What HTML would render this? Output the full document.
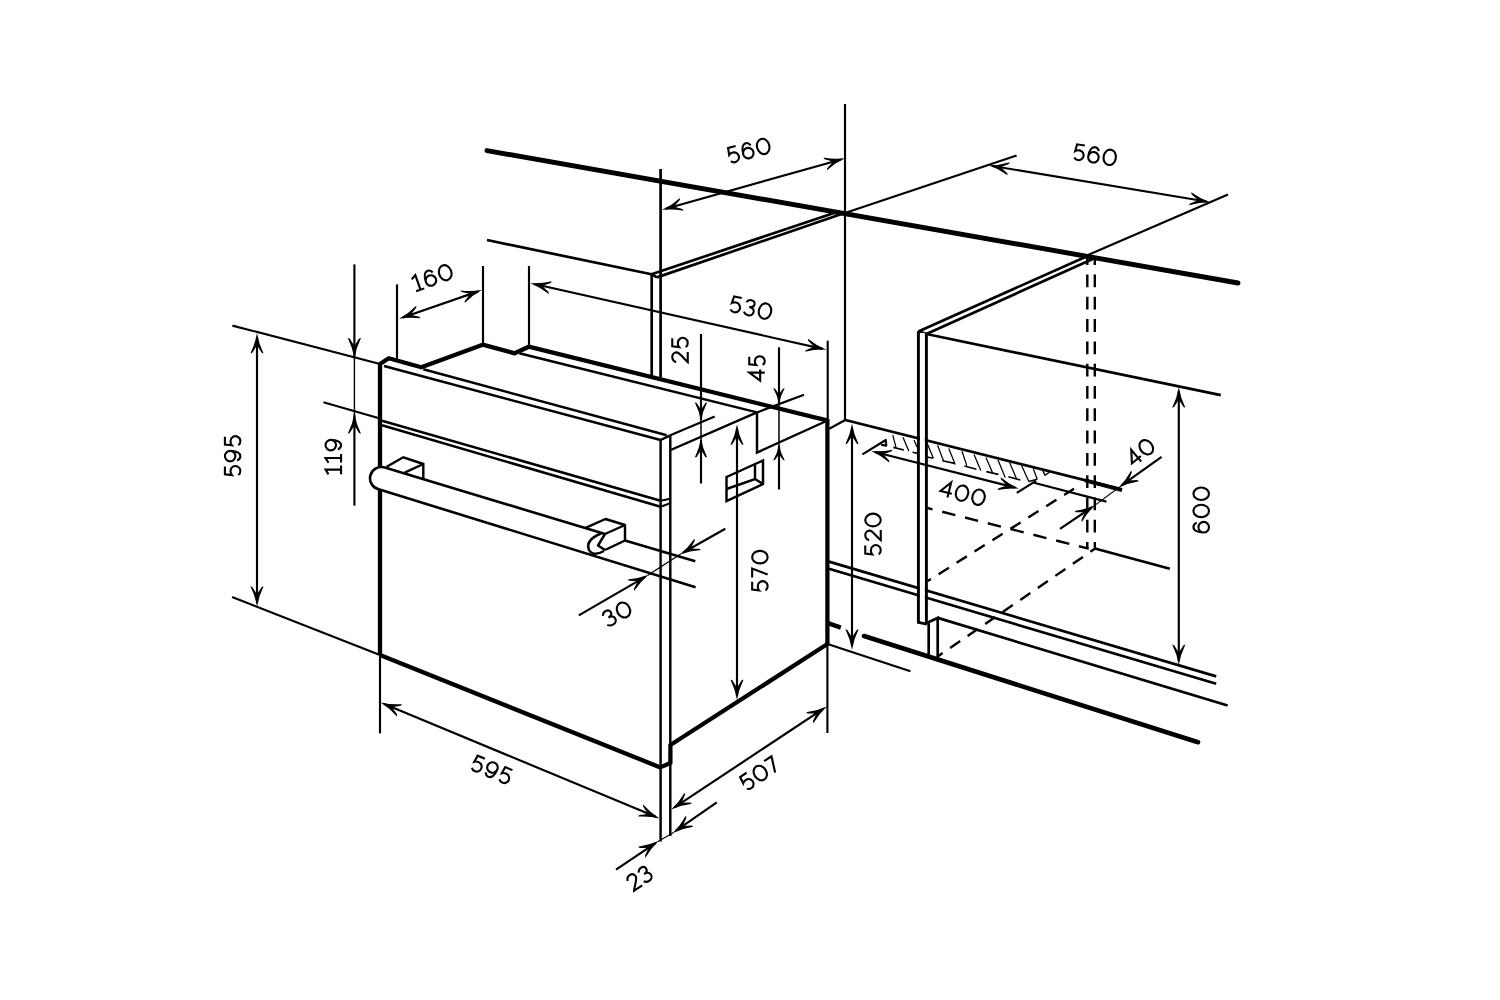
<!DOCTYPE html>
<html><head><meta charset="utf-8"><style>
html,body{margin:0;padding:0;background:#fff;}
svg{display:block;}
text{font-family:"Liberation Sans",sans-serif;text-anchor:middle;dominant-baseline:central;fill:#000;stroke:#fff;stroke-width:0.45px;}
</style></head><body>
<svg width="1500" height="1000" viewBox="0 0 1500 1000">

<rect width="1500" height="1000" fill="#fff"/>
<g stroke="#000" fill="none" stroke-linecap="butt">
<line x1="487" y1="150.6" x2="1238" y2="283" stroke-width="4.9" stroke-linecap="round"/>
<line x1="845" y1="104" x2="845" y2="420" stroke-width="2.15" />
<line x1="845" y1="213" x2="1016.6" y2="155.6" stroke-width="2.15" />
<line x1="487" y1="240" x2="651.5" y2="274.3" stroke-width="2.7" />
<line x1="651.5" y1="274.3" x2="657" y2="277.4" stroke-width="2.7" />
<line x1="660.6" y1="169" x2="660.6" y2="377.5" stroke-width="2.7" />
<line x1="651.7" y1="274.3" x2="651.7" y2="375.5" stroke-width="2.7" />
<line x1="651.5" y1="274.3" x2="840" y2="211" stroke-width="2.7" />
<line x1="657" y1="277.4" x2="843" y2="213.5" stroke-width="2.7" />
<line x1="665.89" y1="208.79" x2="841.11" y2="159.41" stroke-width="2.15" />
<path d="M1,0 Q-9.75,-1.78 -19.50,-6.60 L-18.80,-4.70 Q-14.62,-1.98 -11.31,0 Q-14.62,1.98 -18.80,4.70 L-19.50,6.60 Q-9.75,1.78 1,0Z" fill="#000" stroke="none" transform="translate(844,158.6) rotate(-15.74)"/>
<path d="M1,0 Q-9.75,-1.78 -19.50,-6.60 L-18.80,-4.70 Q-14.62,-1.98 -11.31,0 Q-14.62,1.98 -18.80,4.70 L-19.50,6.60 Q-9.75,1.78 1,0Z" fill="#000" stroke="none" transform="translate(663,209.6) rotate(164.26)"/>
<g transform="translate(748.8,150.4) rotate(-15.4) scale(1.0,1.0) translate(-22.10,-7.75)" stroke-width="2.1" stroke-linejoin="miter" fill="none"><path transform="translate(1.05,0)" d="M9.5,0 L1.7,0 L0.9,6.9 Q2.4,5.6 5.0,5.6 A4.95,4.95 0 1 1 0.95,13.4"/><path transform="translate(15.65,0)" d="M0,10.25 A5.25,5.25 0 1 0 10.5,10.25 A5.25,5.25 0 1 0 0,10.25Z M9.6,3.3 C8.8,1.2 7.3,0 5.5,0 C2.3,0 0,3.8 0,10.25"/><path transform="translate(30.85,0)" d="M6.15,0 A6.15,7.75 0 1 1 6.15,15.5 A6.15,7.75 0 1 1 6.15,0Z"/></g>
<line x1="992.46" y1="165.99" x2="1206.34" y2="201.51" stroke-width="2.15" />
<path d="M1,0 Q-9.75,-1.78 -19.50,-6.60 L-18.80,-4.70 Q-14.62,-1.98 -11.31,0 Q-14.62,1.98 -18.80,4.70 L-19.50,6.60 Q-9.75,1.78 1,0Z" fill="#000" stroke="none" transform="translate(1209.3,202) rotate(9.43)"/>
<path d="M1,0 Q-9.75,-1.78 -19.50,-6.60 L-18.80,-4.70 Q-14.62,-1.98 -11.31,0 Q-14.62,1.98 -18.80,4.70 L-19.50,6.60 Q-9.75,1.78 1,0Z" fill="#000" stroke="none" transform="translate(989.5,165.5) rotate(189.43)"/>
<g transform="translate(1095,155) rotate(9) scale(1.0,1.0) translate(-22.10,-7.75)" stroke-width="2.1" stroke-linejoin="miter" fill="none"><path transform="translate(1.05,0)" d="M9.5,0 L1.7,0 L0.9,6.9 Q2.4,5.6 5.0,5.6 A4.95,4.95 0 1 1 0.95,13.4"/><path transform="translate(15.65,0)" d="M0,10.25 A5.25,5.25 0 1 0 10.5,10.25 A5.25,5.25 0 1 0 0,10.25Z M9.6,3.3 C8.8,1.2 7.3,0 5.5,0 C2.3,0 0,3.8 0,10.25"/><path transform="translate(30.85,0)" d="M6.15,0 A6.15,7.75 0 1 1 6.15,15.5 A6.15,7.75 0 1 1 6.15,0Z"/></g>
<line x1="1088" y1="255" x2="1228" y2="194.4" stroke-width="2.15" />
<line x1="918.4" y1="331.4" x2="1088.2" y2="255.7" stroke-width="2.7" />
<line x1="926.4" y1="334" x2="1092.7" y2="259" stroke-width="2.7" />
<line x1="918.4" y1="331.4" x2="926.4" y2="334" stroke-width="2.7" />
<line x1="926.4" y1="334" x2="1220.8" y2="395.1" stroke-width="2.7" />
<line x1="1087.3" y1="256" x2="1087.3" y2="548.5" stroke-width="2.4" stroke-dasharray="12.8 9.5" stroke-dashoffset="3.8"/>
<line x1="1094.8" y1="256" x2="1094.8" y2="547.5" stroke-width="2.4" stroke-dasharray="12.8 9.5" stroke-dashoffset="3.8"/>
<line x1="1178.8" y1="391.3" x2="1178.8" y2="661.0" stroke-width="2.15" />
<path d="M1,0 Q-9.75,-1.78 -19.50,-6.60 L-18.80,-4.70 Q-14.62,-1.98 -11.31,0 Q-14.62,1.98 -18.80,4.70 L-19.50,6.60 Q-9.75,1.78 1,0Z" fill="#000" stroke="none" transform="translate(1178.8,664) rotate(90.00)"/>
<path d="M1,0 Q-9.75,-1.78 -19.50,-6.60 L-18.80,-4.70 Q-14.62,-1.98 -11.31,0 Q-14.62,1.98 -18.80,4.70 L-19.50,6.60 Q-9.75,1.78 1,0Z" fill="#000" stroke="none" transform="translate(1178.8,388.3) rotate(270.00)"/>
<g transform="translate(1201.2,510) rotate(-90) scale(1.01,1.0) translate(-23.30,-7.75)" stroke-width="2.1" stroke-linejoin="miter" fill="none"><path transform="translate(1.05,0)" d="M0,10.25 A5.25,5.25 0 1 0 10.5,10.25 A5.25,5.25 0 1 0 0,10.25Z M9.6,3.3 C8.8,1.2 7.3,0 5.5,0 C2.3,0 0,3.8 0,10.25"/><path transform="translate(16.25,0)" d="M6.15,0 A6.15,7.75 0 1 1 6.15,15.5 A6.15,7.75 0 1 1 6.15,0Z"/><path transform="translate(33.25,0)" d="M6.15,0 A6.15,7.75 0 1 1 6.15,15.5 A6.15,7.75 0 1 1 6.15,0Z"/></g>
<line x1="1094" y1="548.3" x2="1169.8" y2="568.7" stroke-width="2.7" />
<line x1="829" y1="561.6" x2="1216.2" y2="676.4" stroke-width="2.7" />
<line x1="829" y1="568.8" x2="1216.2" y2="683.7" stroke-width="2.7" />
<line x1="937.7" y1="617.9" x2="1227.6" y2="705.5" stroke-width="2.7" />
<line x1="864" y1="636" x2="1198" y2="742.2" stroke-width="4.6" stroke-linecap="round"/>
<line x1="828" y1="623.2" x2="840.8" y2="627.7" stroke-width="4.4" />
<line x1="827.5" y1="644" x2="910.4" y2="671.2" stroke-width="2.15" />
<line x1="927.3" y1="508" x2="1088.7" y2="548.7" stroke-width="2.4" stroke-dasharray="13.5 10" stroke-dashoffset="8.1"/>
<line x1="927.3" y1="581.3" x2="1074" y2="488.7" stroke-width="2.4" stroke-dasharray="12.1 9.1" stroke-dashoffset="7.8"/>
<line x1="937.7" y1="656.5" x2="1096.3" y2="547.8" stroke-width="2.4" stroke-dasharray="12.2 9.06" stroke-dashoffset="6.21"/>
<line x1="845.3" y1="420" x2="1121.6" y2="489.4" stroke-width="2.7" />
<line x1="1085" y1="480.4" x2="1122" y2="490.2" stroke-width="3.8" />
<path d="M892.8,435.1 L896,447.4 M903,437.3 L908.8,451.1 M914,440 L917,447 M927,443.1 L933.3,458.1 M937.6,445.3 L943.5,460.7 M948.8,448.5 L955.2,464.5 M962,451.2 L966.8,465.6 M974,454.4 L980.8,470.4 M986,457.6 L992.4,472.4 M998,460 L1005.2,477.6 M1009.6,462.4 L1016.4,478.4 M1021.6,465.6 L1028.8,481.6 M1033.2,468.4 L1037.2,479.2 " stroke-width="1.25" />
<path d="M893.3,447.4 L904,450 M912.5,452.2 L917.3,453.3 M927,457 L933.3,458.3 M942.4,460.7 L954.7,463.4 M964.4,466 L976.4,469.2 M986.4,471.6 L998.4,474.4 M1008.4,476.8 L1020.4,480 M1028.8,481.6 L1037.2,479.2 " stroke-width="1.6" />
<path d="M1042.8,470.4 L1045,475.2 L1049.2,472.5" stroke-width="1.4" />
<rect x="920" y="333" width="4.8" height="289" fill="#fff" stroke="none"/>
<path d="M918.4,331.2 L918.4,622.4 L926.9,624.2" stroke-width="2.9" />
<path d="M926.4,334 L926.4,624.2" stroke-width="2.9" />
<path d="M928.7,656 L928.7,622 L937.7,617.9 L937.7,657.6" stroke-width="2.7" />
<line x1="874.91" y1="452.04" x2="1015.09" y2="487.66" stroke-width="2.15" />
<path d="M1,0 Q-9.75,-1.78 -19.50,-6.60 L-18.80,-4.70 Q-14.62,-1.98 -11.31,0 Q-14.62,1.98 -18.80,4.70 L-19.50,6.60 Q-9.75,1.78 1,0Z" fill="#000" stroke="none" transform="translate(1018,488.4) rotate(14.26)"/>
<path d="M1,0 Q-9.75,-1.78 -19.50,-6.60 L-18.80,-4.70 Q-14.62,-1.98 -11.31,0 Q-14.62,1.98 -18.80,4.70 L-19.50,6.60 Q-9.75,1.78 1,0Z" fill="#000" stroke="none" transform="translate(872,451.3) rotate(194.26)"/>
<g transform="translate(962.7,493.3) rotate(14) scale(1.0,1.0) translate(-23.50,-7.75)" stroke-width="2.1" stroke-linejoin="miter" fill="none"><path transform="translate(1.40,0)" d="M8.3,15.5 L8.3,0 L0,10.9 L11.6,10.9"/><path transform="translate(16.65,0)" d="M6.15,0 A6.15,7.75 0 1 1 6.15,15.5 A6.15,7.75 0 1 1 6.15,0Z"/><path transform="translate(33.65,0)" d="M6.15,0 A6.15,7.75 0 1 1 6.15,15.5 A6.15,7.75 0 1 1 6.15,0Z"/></g>
<path d="M862.4,454.4 L885.8,440 L886.3,445.6 L881.2,444.9" stroke-width="2.15" stroke-linejoin="round"/>
<line x1="1016.8" y1="492.8" x2="1036" y2="480.8" stroke-width="2.15" />
<line x1="1034" y1="482.7" x2="1106.4" y2="501.6" stroke-width="2.15" />
<line x1="1161.6" y1="456.8" x2="1121.64" y2="485.45" stroke-width="2.15" />
<path d="M1,0 Q-9.75,-1.78 -19.50,-6.60 L-18.80,-4.70 Q-14.62,-1.98 -11.31,0 Q-14.62,1.98 -18.80,4.70 L-19.50,6.60 Q-9.75,1.78 1,0Z" fill="#000" stroke="none" transform="translate(1119.2,487.2) rotate(144.36)"/>
<line x1="1060" y1="528.8" x2="1091.91" y2="507.28" stroke-width="2.15" />
<path d="M1,0 Q-9.75,-1.78 -19.50,-6.60 L-18.80,-4.70 Q-14.62,-1.98 -11.31,0 Q-14.62,1.98 -18.80,4.70 L-19.50,6.60 Q-9.75,1.78 1,0Z" fill="#000" stroke="none" transform="translate(1094.4,505.6) rotate(-34.00)"/>
<line x1="1094.4" y1="505.6" x2="1119.2" y2="487.2" stroke-width="1.1" />
<g transform="translate(1140.3,452.3) rotate(-40) scale(1.0,1.0) translate(-15.00,-7.75)" stroke-width="2.1" stroke-linejoin="miter" fill="none"><path transform="translate(1.40,0)" d="M8.3,15.5 L8.3,0 L0,10.9 L11.6,10.9"/><path transform="translate(16.65,0)" d="M6.15,0 A6.15,7.75 0 1 1 6.15,15.5 A6.15,7.75 0 1 1 6.15,0Z"/></g>
<path d="M380,655 L380,364 L388.7,358.3 L421.3,367.3 L482.7,344.7 L514.7,353.3 L528.7,346.7 L828,420.7" stroke-width="4.3" stroke-linejoin="round"/>
<line x1="827.4" y1="419" x2="827.4" y2="644" stroke-width="4.3" />
<line x1="827.4" y1="644" x2="827.4" y2="733" stroke-width="2.15" />
<line x1="380" y1="655" x2="380" y2="733.4" stroke-width="2.15" />
<path d="M380,655 L660.3,767.4 L670.4,763 L670.4,745 L827.4,644" stroke-width="4.3" stroke-linejoin="round"/>
<line x1="384" y1="366" x2="660.6" y2="440" stroke-width="2.45" />
<line x1="423.3" y1="369.3" x2="666.7" y2="435.3" stroke-width="2.45" />
<line x1="660.6" y1="440" x2="670.3" y2="435.3" stroke-width="2.45" />
<line x1="660.6" y1="440" x2="660.6" y2="841.4" stroke-width="2.45" />
<line x1="670.3" y1="435.3" x2="670.3" y2="836" stroke-width="2.45" />
<line x1="670.7" y1="450" x2="757" y2="412.4" stroke-width="2.45" />
<line x1="519.3" y1="353.3" x2="757" y2="412.4" stroke-width="2.45" />
<path d="M757,412.4 L757,452.5 L825.3,421.5" stroke-width="2.45" />
<line x1="757" y1="412.4" x2="804" y2="394.7" stroke-width="2.15" />
<line x1="670.3" y1="435.3" x2="714.7" y2="416.4" stroke-width="2.15" />
<line x1="829.3" y1="428.7" x2="845.3" y2="420" stroke-width="2.15" />
<line x1="701" y1="334" x2="701" y2="420.3" stroke-width="2.15" />
<line x1="701" y1="420.3" x2="701" y2="439.6" stroke-width="1.5" />
<line x1="701" y1="439.6" x2="701" y2="483.5" stroke-width="2.15" />
<path d="M1,0 Q-9.00,-1.67 -18.00,-6.20 L-17.30,-4.30 Q-13.50,-1.86 -10.44,0 Q-13.50,1.86 -17.30,4.30 L-18.00,6.20 Q-9.00,1.67 1,0Z" fill="#000" stroke="none" transform="translate(701,420.3) rotate(90.00)"/>
<path d="M1,0 Q-9.00,-1.67 -18.00,-6.20 L-17.30,-4.30 Q-13.50,-1.86 -10.44,0 Q-13.50,1.86 -17.30,4.30 L-18.00,6.20 Q-9.00,1.67 1,0Z" fill="#000" stroke="none" transform="translate(701,439.6) rotate(-90.00)"/>
<g transform="translate(680,350) rotate(-90) scale(1.04,1.0) translate(-12.75,-7.75)" stroke-width="2.1" stroke-linejoin="miter" fill="none"><path transform="translate(0.60,0)" d="M0.5,3.9 C1.3,1.5 3.2,0 5.4,0 C8.0,0 9.8,1.8 9.8,4.3 C9.8,7.6 4.0,11.0 0.6,15.5 L10.3,15.5"/><path transform="translate(14.55,0)" d="M9.5,0 L1.7,0 L0.9,6.9 Q2.4,5.6 5.0,5.6 A4.95,4.95 0 1 1 0.95,13.4"/></g>
<line x1="779" y1="347.3" x2="779" y2="403" stroke-width="2.15" />
<line x1="779" y1="403" x2="779" y2="445.5" stroke-width="1.5" />
<line x1="779" y1="445.5" x2="779" y2="489.5" stroke-width="2.15" />
<path d="M1,0 Q-7.50,-1.57 -15.00,-5.80 L-14.30,-3.90 Q-11.25,-1.74 -8.70,0 Q-11.25,1.74 -14.30,3.90 L-15.00,5.80 Q-7.50,1.57 1,0Z" fill="#000" stroke="none" transform="translate(779,403) rotate(90.00)"/>
<path d="M1,0 Q-7.50,-1.57 -15.00,-5.80 L-14.30,-3.90 Q-11.25,-1.74 -8.70,0 Q-11.25,1.74 -14.30,3.90 L-15.00,5.80 Q-7.50,1.57 1,0Z" fill="#000" stroke="none" transform="translate(779,445.5) rotate(-90.00)"/>
<g transform="translate(757,368.65) rotate(-90) scale(0.97,1.0) translate(-13.80,-7.75)" stroke-width="2.1" stroke-linejoin="miter" fill="none"><path transform="translate(1.40,0)" d="M8.3,15.5 L8.3,0 L0,10.9 L11.6,10.9"/><path transform="translate(16.65,0)" d="M9.5,0 L1.7,0 L0.9,6.9 Q2.4,5.6 5.0,5.6 A4.95,4.95 0 1 1 0.95,13.4"/></g>
<line x1="529" y1="266" x2="529" y2="347" stroke-width="2.15" />
<line x1="827.7" y1="340.7" x2="827.7" y2="421" stroke-width="2.15" />
<line x1="534.23" y1="284.06" x2="822.57" y2="348.84" stroke-width="2.15" />
<path d="M1,0 Q-9.75,-1.78 -19.50,-6.60 L-18.80,-4.70 Q-14.62,-1.98 -11.31,0 Q-14.62,1.98 -18.80,4.70 L-19.50,6.60 Q-9.75,1.78 1,0Z" fill="#000" stroke="none" transform="translate(825.5,349.5) rotate(12.66)"/>
<path d="M1,0 Q-9.75,-1.78 -19.50,-6.60 L-18.80,-4.70 Q-14.62,-1.98 -11.31,0 Q-14.62,1.98 -18.80,4.70 L-19.50,6.60 Q-9.75,1.78 1,0Z" fill="#000" stroke="none" transform="translate(531.3,283.4) rotate(192.66)"/>
<g transform="translate(750.9,308) rotate(12.4) scale(1.0,1.0) translate(-21.63,-7.75)" stroke-width="2.1" stroke-linejoin="miter" fill="none"><path transform="translate(1.05,0)" d="M9.5,0 L1.7,0 L0.9,6.9 Q2.4,5.6 5.0,5.6 A4.95,4.95 0 1 1 0.95,13.4"/><path transform="translate(15.20,0)" d="M0.8,2.9 C1.8,1.0 3.4,0 5.2,0 C7.6,0 9.2,1.5 9.2,3.6 C9.2,5.6 7.6,7.0 4.6,7.0 C8.2,7.0 10.0,8.7 10.0,11.1 C10.0,13.7 7.9,15.5 5.2,15.5 C3.1,15.5 1.4,14.5 0.3,12.9"/><path transform="translate(29.90,0)" d="M6.15,0 A6.15,7.75 0 1 1 6.15,15.5 A6.15,7.75 0 1 1 6.15,0Z"/></g>
<line x1="397" y1="284.4" x2="397" y2="359" stroke-width="2.15" />
<line x1="483" y1="266" x2="483" y2="345" stroke-width="2.15" />
<line x1="402.84" y1="317.42" x2="478.16" y2="291.38" stroke-width="2.15" />
<path d="M1,0 Q-9.75,-1.78 -19.50,-6.60 L-18.80,-4.70 Q-14.62,-1.98 -11.31,0 Q-14.62,1.98 -18.80,4.70 L-19.50,6.60 Q-9.75,1.78 1,0Z" fill="#000" stroke="none" transform="translate(481,290.4) rotate(-19.07)"/>
<path d="M1,0 Q-9.75,-1.78 -19.50,-6.60 L-18.80,-4.70 Q-14.62,-1.98 -11.31,0 Q-14.62,1.98 -18.80,4.70 L-19.50,6.60 Q-9.75,1.78 1,0Z" fill="#000" stroke="none" transform="translate(400,318.4) rotate(160.93)"/>
<g transform="translate(432.6,277.2) rotate(-19.5) scale(1.0,1.0) translate(-20.60,-7.75)" stroke-width="2.1" stroke-linejoin="miter" fill="none"><path transform="translate(0.20,0)" d="M0,2.9 L4.8,0 L4.8,15.5 M0.2,15.5 L8.8,15.5"/><path transform="translate(12.65,0)" d="M0,10.25 A5.25,5.25 0 1 0 10.5,10.25 A5.25,5.25 0 1 0 0,10.25Z M9.6,3.3 C8.8,1.2 7.3,0 5.5,0 C2.3,0 0,3.8 0,10.25"/><path transform="translate(27.85,0)" d="M6.15,0 A6.15,7.75 0 1 1 6.15,15.5 A6.15,7.75 0 1 1 6.15,0Z"/></g>
<line x1="354.4" y1="264.4" x2="354.4" y2="357.4" stroke-width="2.15" />
<line x1="354.4" y1="357.4" x2="354.4" y2="414.3" stroke-width="1.4" />
<line x1="354.4" y1="414.3" x2="354.4" y2="505.6" stroke-width="2.15" />
<path d="M1,0 Q-9.75,-1.78 -19.50,-6.60 L-18.80,-4.70 Q-14.62,-1.98 -11.31,0 Q-14.62,1.98 -18.80,4.70 L-19.50,6.60 Q-9.75,1.78 1,0Z" fill="#000" stroke="none" transform="translate(354.4,357.4) rotate(90.00)"/>
<path d="M1,0 Q-9.75,-1.78 -19.50,-6.60 L-18.80,-4.70 Q-14.62,-1.98 -11.31,0 Q-14.62,1.98 -18.80,4.70 L-19.50,6.60 Q-9.75,1.78 1,0Z" fill="#000" stroke="none" transform="translate(354.4,414.3) rotate(-90.00)"/>
<g transform="translate(333.3,456.7) rotate(-90) scale(1.0,1.0) translate(-17.90,-7.75)" stroke-width="2.1" stroke-linejoin="miter" fill="none"><path transform="translate(0.20,0)" d="M0,2.9 L4.8,0 L4.8,15.5 M0.2,15.5 L8.8,15.5"/><path transform="translate(11.80,0)" d="M0,2.9 L4.8,0 L4.8,15.5 M0.2,15.5 L8.8,15.5"/><path transform="translate(24.25,0)" d="M10.5,5.25 A5.25,5.25 0 1 0 0,5.25 A5.25,5.25 0 1 0 10.5,5.25Z M0.9,12.2 C1.7,14.3 3.2,15.5 5.0,15.5 C8.2,15.5 10.5,11.7 10.5,5.25"/></g>
<line x1="257.0" y1="337.0" x2="257.0" y2="602.8" stroke-width="2.15" />
<path d="M1,0 Q-9.75,-1.78 -19.50,-6.60 L-18.80,-4.70 Q-14.62,-1.98 -11.31,0 Q-14.62,1.98 -18.80,4.70 L-19.50,6.60 Q-9.75,1.78 1,0Z" fill="#000" stroke="none" transform="translate(257,605.8) rotate(90.00)"/>
<path d="M1,0 Q-9.75,-1.78 -19.50,-6.60 L-18.80,-4.70 Q-14.62,-1.98 -11.31,0 Q-14.62,1.98 -18.80,4.70 L-19.50,6.60 Q-9.75,1.78 1,0Z" fill="#000" stroke="none" transform="translate(257,334) rotate(270.00)"/>
<g transform="translate(232.65,456.1) rotate(-90) scale(1.0,1.0) translate(-20.90,-7.75)" stroke-width="2.1" stroke-linejoin="miter" fill="none"><path transform="translate(1.05,0)" d="M9.5,0 L1.7,0 L0.9,6.9 Q2.4,5.6 5.0,5.6 A4.95,4.95 0 1 1 0.95,13.4"/><path transform="translate(15.65,0)" d="M10.5,5.25 A5.25,5.25 0 1 0 0,5.25 A5.25,5.25 0 1 0 10.5,5.25Z M0.9,12.2 C1.7,14.3 3.2,15.5 5.0,15.5 C8.2,15.5 10.5,11.7 10.5,5.25"/><path transform="translate(30.85,0)" d="M9.5,0 L1.7,0 L0.9,6.9 Q2.4,5.6 5.0,5.6 A4.95,4.95 0 1 1 0.95,13.4"/></g>
<line x1="232.4" y1="325.6" x2="380" y2="364" stroke-width="2.15" />
<line x1="232.1" y1="597" x2="380" y2="655" stroke-width="2.15" />
<line x1="323.4" y1="402.2" x2="380" y2="418.5" stroke-width="2.15" />
<line x1="382" y1="420.7" x2="660.6" y2="500.7" stroke-width="2.45" />
<line x1="382" y1="425.3" x2="660.6" y2="506.7" stroke-width="2.45" />
<line x1="660.6" y1="500.7" x2="670.3" y2="498.7" stroke-width="2.15" />
<line x1="660.6" y1="506.7" x2="670.3" y2="503.3" stroke-width="2.15" />
<path d="M605,534 L384,467.3 A11.3,11.3 0 0 0 378.7,489.3 L606,559.5 Z" fill="#fff" stroke="none"/>
<path d="M605,534 L384,467.3 A11.3,11.3 0 0 0 378.7,489.3 L695.6,587.2" stroke-width="2.6" />
<path d="M386.7,466.7 L403.3,457.3 L423.3,464 L423.3,478.5 M404.7,472.7 L423.3,464" stroke-width="2.45" />
<path d="M585.5,527.8 L605.5,519 L625,525 L625,540.5 L605,550 M625,525 L605,534 M605,534 L598,545.5 L605,550 M601,533.5 Q585,540 589,550 Q593,557 604,551" stroke-width="2.45" stroke-linejoin="round"/>
<line x1="625" y1="540.5" x2="695.3" y2="561.3" stroke-width="2.6" />
<line x1="578.8" y1="615.4" x2="645.21" y2="576.81" stroke-width="2.15" />
<path d="M1,0 Q-9.75,-1.78 -19.50,-6.60 L-18.80,-4.70 Q-14.62,-1.98 -11.31,0 Q-14.62,1.98 -18.80,4.70 L-19.50,6.60 Q-9.75,1.78 1,0Z" fill="#000" stroke="none" transform="translate(647.8,575.3) rotate(-30.16)"/>
<line x1="725.3" y1="528.7" x2="683.31" y2="552.52" stroke-width="2.15" />
<path d="M1,0 Q-9.75,-1.78 -19.50,-6.60 L-18.80,-4.70 Q-14.62,-1.98 -11.31,0 Q-14.62,1.98 -18.80,4.70 L-19.50,6.60 Q-9.75,1.78 1,0Z" fill="#000" stroke="none" transform="translate(680.7,554) rotate(150.44)"/>
<line x1="647.8" y1="575.3" x2="680.7" y2="554" stroke-width="1.3" />
<g transform="translate(617,613.6) rotate(-29) scale(1.04,1.0) translate(-14.33,-7.75)" stroke-width="2.1" stroke-linejoin="miter" fill="none"><path transform="translate(0.60,0)" d="M0.8,2.9 C1.8,1.0 3.4,0 5.2,0 C7.6,0 9.2,1.5 9.2,3.6 C9.2,5.6 7.6,7.0 4.6,7.0 C8.2,7.0 10.0,8.7 10.0,11.1 C10.0,13.7 7.9,15.5 5.2,15.5 C3.1,15.5 1.4,14.5 0.3,12.9"/><path transform="translate(15.30,0)" d="M6.15,0 A6.15,7.75 0 1 1 6.15,15.5 A6.15,7.75 0 1 1 6.15,0Z"/></g>
<path d="M726.5,477 L763,460.5 L763,484 L726.5,501 Z M726.5,489 L755,479 L763,484 M755,479 L755,464.5" stroke-width="2.45" />
<line x1="737.0" y1="428.5" x2="737.0" y2="696.0" stroke-width="2.15" />
<path d="M1,0 Q-9.75,-1.78 -19.50,-6.60 L-18.80,-4.70 Q-14.62,-1.98 -11.31,0 Q-14.62,1.98 -18.80,4.70 L-19.50,6.60 Q-9.75,1.78 1,0Z" fill="#000" stroke="none" transform="translate(737,699) rotate(90.00)"/>
<path d="M1,0 Q-9.75,-1.78 -19.50,-6.60 L-18.80,-4.70 Q-14.62,-1.98 -11.31,0 Q-14.62,1.98 -18.80,4.70 L-19.50,6.60 Q-9.75,1.78 1,0Z" fill="#000" stroke="none" transform="translate(737,425.5) rotate(270.00)"/>
<g transform="translate(759.9,571.1) rotate(-90) scale(1.02,1.0) translate(-20.90,-7.75)" stroke-width="2.1" stroke-linejoin="miter" fill="none"><path transform="translate(1.05,0)" d="M9.5,0 L1.7,0 L0.9,6.9 Q2.4,5.6 5.0,5.6 A4.95,4.95 0 1 1 0.95,13.4"/><path transform="translate(14.60,0)" d="M0,0 L8.8,0 L2.9,15.5"/><path transform="translate(28.45,0)" d="M6.15,0 A6.15,7.75 0 1 1 6.15,15.5 A6.15,7.75 0 1 1 6.15,0Z"/></g>
<line x1="852.0" y1="427.7" x2="852.0" y2="645.8" stroke-width="2.15" />
<path d="M1,0 Q-9.75,-1.78 -19.50,-6.60 L-18.80,-4.70 Q-14.62,-1.98 -11.31,0 Q-14.62,1.98 -18.80,4.70 L-19.50,6.60 Q-9.75,1.78 1,0Z" fill="#000" stroke="none" transform="translate(852,648.8) rotate(90.00)"/>
<path d="M1,0 Q-9.75,-1.78 -19.50,-6.60 L-18.80,-4.70 Q-14.62,-1.98 -11.31,0 Q-14.62,1.98 -18.80,4.70 L-19.50,6.60 Q-9.75,1.78 1,0Z" fill="#000" stroke="none" transform="translate(852,424.7) rotate(270.00)"/>
<g transform="translate(873,534.5) rotate(-90) scale(1.03,1.0) translate(-21.25,-7.75)" stroke-width="2.1" stroke-linejoin="miter" fill="none"><path transform="translate(1.05,0)" d="M9.5,0 L1.7,0 L0.9,6.9 Q2.4,5.6 5.0,5.6 A4.95,4.95 0 1 1 0.95,13.4"/><path transform="translate(15.20,0)" d="M0.5,3.9 C1.3,1.5 3.2,0 5.4,0 C8.0,0 9.8,1.8 9.8,4.3 C9.8,7.6 4.0,11.0 0.6,15.5 L10.3,15.5"/><path transform="translate(29.15,0)" d="M6.15,0 A6.15,7.75 0 1 1 6.15,15.5 A6.15,7.75 0 1 1 6.15,0Z"/></g>
<line x1="823.5" y1="708.66" x2="674.5" y2="807.34" stroke-width="2.15" />
<path d="M1,0 Q-9.75,-1.78 -19.50,-6.60 L-18.80,-4.70 Q-14.62,-1.98 -11.31,0 Q-14.62,1.98 -18.80,4.70 L-19.50,6.60 Q-9.75,1.78 1,0Z" fill="#000" stroke="none" transform="translate(672,809) rotate(146.48)"/>
<path d="M1,0 Q-9.75,-1.78 -19.50,-6.60 L-18.80,-4.70 Q-14.62,-1.98 -11.31,0 Q-14.62,1.98 -18.80,4.70 L-19.50,6.60 Q-9.75,1.78 1,0Z" fill="#000" stroke="none" transform="translate(826,707) rotate(326.48)"/>
<g transform="translate(759.5,773.5) rotate(-33.5) scale(1.0,1.0) translate(-20.90,-7.75)" stroke-width="2.1" stroke-linejoin="miter" fill="none"><path transform="translate(1.05,0)" d="M9.5,0 L1.7,0 L0.9,6.9 Q2.4,5.6 5.0,5.6 A4.95,4.95 0 1 1 0.95,13.4"/><path transform="translate(15.65,0)" d="M6.15,0 A6.15,7.75 0 1 1 6.15,15.5 A6.15,7.75 0 1 1 6.15,0Z"/><path transform="translate(31.60,0)" d="M0,0 L8.8,0 L2.9,15.5"/></g>
<line x1="384.27" y1="703.95" x2="655.83" y2="816.85" stroke-width="2.15" />
<path d="M1,0 Q-9.75,-1.78 -19.50,-6.60 L-18.80,-4.70 Q-14.62,-1.98 -11.31,0 Q-14.62,1.98 -18.80,4.70 L-19.50,6.60 Q-9.75,1.78 1,0Z" fill="#000" stroke="none" transform="translate(658.6,818) rotate(22.57)"/>
<path d="M1,0 Q-9.75,-1.78 -19.50,-6.60 L-18.80,-4.70 Q-14.62,-1.98 -11.31,0 Q-14.62,1.98 -18.80,4.70 L-19.50,6.60 Q-9.75,1.78 1,0Z" fill="#000" stroke="none" transform="translate(381.5,702.8) rotate(202.57)"/>
<g transform="translate(491.5,769.8) rotate(22.6) scale(1.0,1.0) translate(-20.90,-7.75)" stroke-width="2.1" stroke-linejoin="miter" fill="none"><path transform="translate(1.05,0)" d="M9.5,0 L1.7,0 L0.9,6.9 Q2.4,5.6 5.0,5.6 A4.95,4.95 0 1 1 0.95,13.4"/><path transform="translate(15.65,0)" d="M10.5,5.25 A5.25,5.25 0 1 0 0,5.25 A5.25,5.25 0 1 0 10.5,5.25Z M0.9,12.2 C1.7,14.3 3.2,15.5 5.0,15.5 C8.2,15.5 10.5,11.7 10.5,5.25"/><path transform="translate(30.85,0)" d="M9.5,0 L1.7,0 L0.9,6.9 Q2.4,5.6 5.0,5.6 A4.95,4.95 0 1 1 0.95,13.4"/></g>
<line x1="716.8" y1="802.4" x2="676.06" y2="830.69" stroke-width="2.15" />
<path d="M1,0 Q-9.75,-1.78 -19.50,-6.60 L-18.80,-4.70 Q-14.62,-1.98 -11.31,0 Q-14.62,1.98 -18.80,4.70 L-19.50,6.60 Q-9.75,1.78 1,0Z" fill="#000" stroke="none" transform="translate(673.6,832.4) rotate(145.22)"/>
<line x1="616" y1="869.6" x2="655.51" y2="843.07" stroke-width="2.15" />
<path d="M1,0 Q-9.75,-1.78 -19.50,-6.60 L-18.80,-4.70 Q-14.62,-1.98 -11.31,0 Q-14.62,1.98 -18.80,4.70 L-19.50,6.60 Q-9.75,1.78 1,0Z" fill="#000" stroke="none" transform="translate(658,841.4) rotate(-33.88)"/>
<line x1="658" y1="841.4" x2="673.6" y2="832.4" stroke-width="1.1" />
<g transform="translate(639.4,878) rotate(-33) scale(1.0,1.0) translate(-12.58,-7.75)" stroke-width="2.1" stroke-linejoin="miter" fill="none"><path transform="translate(0.60,0)" d="M0.5,3.9 C1.3,1.5 3.2,0 5.4,0 C8.0,0 9.8,1.8 9.8,4.3 C9.8,7.6 4.0,11.0 0.6,15.5 L10.3,15.5"/><path transform="translate(14.10,0)" d="M0.8,2.9 C1.8,1.0 3.4,0 5.2,0 C7.6,0 9.2,1.5 9.2,3.6 C9.2,5.6 7.6,7.0 4.6,7.0 C8.2,7.0 10.0,8.7 10.0,11.1 C10.0,13.7 7.9,15.5 5.2,15.5 C3.1,15.5 1.4,14.5 0.3,12.9"/></g>
</g>
</svg>
</body></html>
